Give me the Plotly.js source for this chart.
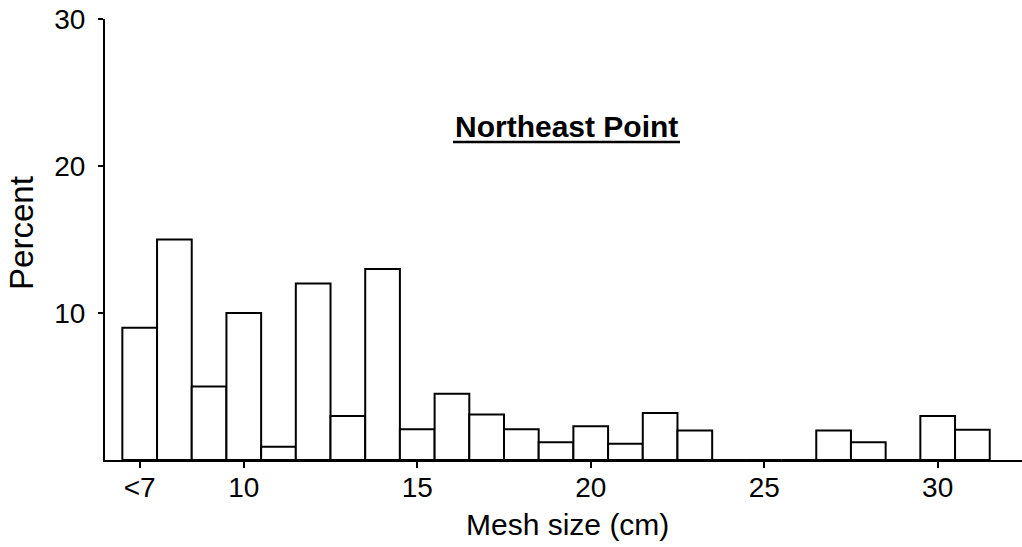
<!DOCTYPE html>
<html>
<head>
<meta charset="utf-8">
<script src="https://cdn.plot.ly/plotly-3.0.1.min.js"></script>
<style>html,body{margin:0;padding:0;background:#fff;}#chart{width:1022px;height:547px;}</style>
</head>
<body>
<div id="chart"></div>
<script>
// Mesh size bins (cm); the first bin is "<7"
const meshSizes = [7, 8, 9, 10, 11, 12, 13, 14, 15, 16, 17, 18, 19, 20, 21, 22, 23, 24, 25, 26, 27, 28, 29, 30, 31];
const percentValues = [9, 15, 5, 10, 0.9, 12, 3, 13, 2.1, 4.5, 3.1, 2.1, 1.2, 2.3, 1.1, 3.2, 2.0, 0, 0, 0, 2.0, 1.2, 0, 3.0, 2.05];
const xTickVals = [7, 10, 15, 20, 25, 30];
const xTickText = ["<7", "10", "15", "20", "25", "30"];
const yTickVals = [10, 20, 30];
const chartTitle = "Northeast Point";
const xTitle = "Mesh size (cm)";
const yTitle = "Percent";

const FONT = "Liberation Sans, Arial, Helvetica, sans-serif";

const trace = {
  type: "bar",
  x: meshSizes,
  y: percentValues,
  width: 1,
  marker: {color: "#ffffff", line: {color: "#000000", width: 2}},
  hoverinfo: "x+y"
};

const layout = {
  width: 1022, height: 547,
  margin: {l: 105, r: 0, t: 19, b: 87},
  paper_bgcolor: "#ffffff", plot_bgcolor: "#ffffff",
  showlegend: false,
  font: {family: FONT, color: "#000000", size: 26},
  xaxis: {
    range: [6.0, 32.43],
    tickmode: "array", tickvals: xTickVals, ticktext: xTickText,
    ticks: "outside", ticklen: 6, tickwidth: 2, tickcolor: "#000",
    ticklabelstandoff: -5,
    showline: true, linecolor: "#000", linewidth: 2,
    showgrid: false, zeroline: false,
    tickfont: {size: 28, family: FONT, color: "#000"}
  },
  yaxis: {
    range: [0, 30],
    tickmode: "array", tickvals: yTickVals,
    ticks: "outside", ticklen: 5, tickwidth: 2, tickcolor: "#000",
    ticklabelstandoff: 7,
    showline: true, linecolor: "#000", linewidth: 2,
    showgrid: false, zeroline: false,
    tickfont: {size: 28, family: FONT, color: "#000"}
  },
  annotations: [
    {
      text: "<b>" + chartTitle + "</b>", xref: "paper", yref: "paper",
      x: 0.503, y: 0.757, xanchor: "center", yanchor: "middle", showarrow: false,
      font: {size: 30, family: FONT, color: "#000"}
    },
    {
      text: xTitle, xref: "paper", yref: "paper",
      x: 0.504, y: -0.147, xanchor: "center", yanchor: "middle", showarrow: false,
      font: {size: 30, family: FONT, color: "#000"}
    },
    {
      text: yTitle, xref: "paper", yref: "paper", textangle: -90,
      x: -0.0905, y: 0.515, xanchor: "center", yanchor: "middle", showarrow: false,
      font: {size: 33, family: FONT, color: "#000"}
    }
  ],
  shapes: [
    {type: "line", xref: "paper", yref: "paper", x0: (453 - 105) / 917, x1: (680 - 105) / 917,
     y0: (460 - 142) / 441, y1: (460 - 142) / 441, line: {color: "#000", width: 2.5}}
  ]
};

Plotly.newPlot("chart", [trace], layout, {displayModeBar: false, staticPlot: true});
</script>
</body>
</html>
